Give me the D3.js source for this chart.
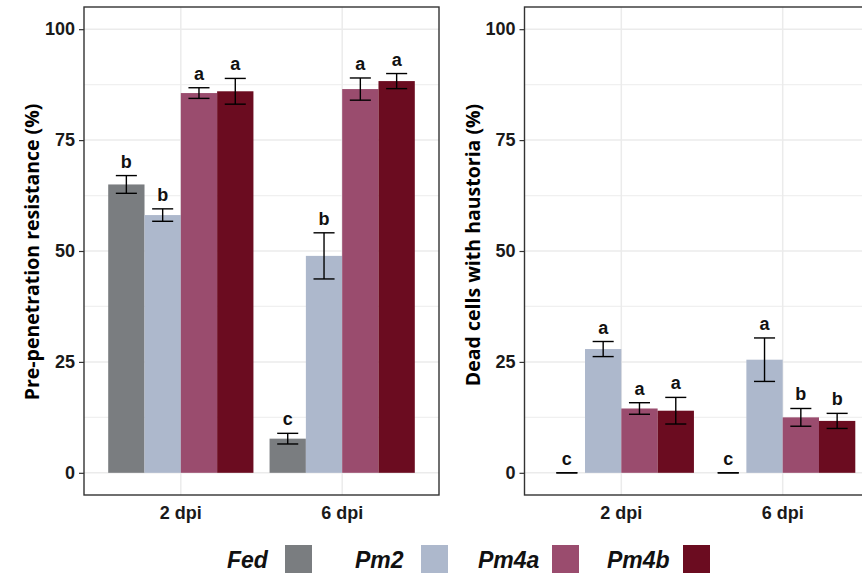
<!DOCTYPE html>
<html>
<head>
<meta charset="utf-8">
<script src="https://cdn.jsdelivr.net/npm/d3@7"></script>
<style>
  html, body { margin: 0; padding: 0; background: #fff; }
  svg { display: block; }
</style>
</head>
<body>
<svg id="chart" width="862" height="573"></svg>
<script>
// Time points and genotypes
const timepoints = ["2 dpi", "6 dpi"];
const genotypes = ["Fed", "Pm2", "Pm4a", "Pm4b"];
const genotypeColors = ["#7a7d80", "#adb8cc", "#9a4c6e", "#6b0c20"];

// Pre-penetration resistance (%): mean and standard error per genotype, [2 dpi, 6 dpi]
const penetrationMean = { Fed: [65.0, 7.7], Pm2: [58.1, 48.9], Pm4a: [85.6, 86.5], Pm4b: [86.0, 88.3] };
const penetrationSE   = { Fed: [2.0, 1.2],  Pm2: [1.4, 5.2],   Pm4a: [1.2, 2.5],   Pm4b: [2.9, 1.7] };
const penetrationLetters = { Fed: ["b", "c"], Pm2: ["b", "b"], Pm4a: ["a", "a"], Pm4b: ["a", "a"] };

// Dead cells with haustoria (%)
const haustoriaMean = { Fed: [0, 0], Pm2: [27.9, 25.5], Pm4a: [14.5, 12.5], Pm4b: [14.0, 11.7] };
const haustoriaSE   = { Fed: [0, 0], Pm2: [1.7, 4.9],   Pm4a: [1.3, 2.0],   Pm4b: [3.0, 1.7] };
const haustoriaLetters = { Fed: ["c", "c"], Pm2: ["a", "a"], Pm4a: ["a", "b"], Pm4b: ["a", "b"] };

const yTicks = [0, 25, 50, 75, 100];
const yMinorTicks = [12.5, 37.5, 62.5, 87.5];

const svg = d3.select("#chart");
const color = d3.scaleOrdinal().domain(genotypes).range(genotypeColors);

const panelTop = 7, panelBottom = 495, panelWidth = 355;
const bodyFont = "Liberation Sans, Arial, sans-serif";

function drawPanel(left, title, means, ses, letters, titleCenterY) {
  const right = left + panelWidth;
  const g = svg.append("g");

  const y = d3.scaleLinear().domain([-5, 105]).range([panelBottom, panelTop]);
  const x0 = d3.scaleBand().domain(timepoints).range([left, right])
    .paddingInner(0.1).paddingOuter(0.15);
  const x1 = d3.scaleBand().domain(genotypes).range([0, x0.bandwidth()]);

  // grid
  g.selectAll(".minor").data(yMinorTicks).join("line")
    .attr("x1", left).attr("x2", right)
    .attr("y1", d => y(d)).attr("y2", d => y(d))
    .attr("stroke", "#f0f0f0").attr("stroke-width", 1.2);
  g.selectAll(".major").data(yTicks).join("line")
    .attr("x1", left).attr("x2", right)
    .attr("y1", d => y(d)).attr("y2", d => y(d))
    .attr("stroke", "#ebebeb").attr("stroke-width", 1.5);
  g.selectAll(".vgrid").data(timepoints).join("line")
    .attr("x1", d => x0(d) + x0.bandwidth() / 2).attr("x2", d => x0(d) + x0.bandwidth() / 2)
    .attr("y1", panelTop).attr("y2", panelBottom)
    .attr("stroke", "#ebebeb").attr("stroke-width", 1.5);

  // rows: one per genotype x timepoint
  const rows = [];
  timepoints.forEach((t, ti) => genotypes.forEach(gn => rows.push({
    t, gn, mean: means[gn][ti], se: ses[gn][ti], letter: letters[gn][ti]
  })));

  const cx = d => x0(d.t) + x1(d.gn) + x1.bandwidth() / 2;

  g.selectAll(".bar").data(rows).join("rect")
    .attr("x", d => x0(d.t) + x1(d.gn))
    .attr("width", x1.bandwidth())
    .attr("y", d => y(d.mean))
    .attr("height", d => y(0) - y(d.mean))
    .attr("fill", d => color(d.gn));

  const capHalf = x1.bandwidth() * 0.29;
  const eb = g.selectAll(".err").data(rows).join("g")
    .attr("stroke", "#000").attr("stroke-width", 1.4).attr("fill", "none");
  eb.append("line")
    .attr("x1", cx).attr("x2", cx)
    .attr("y1", d => y(d.mean + d.se)).attr("y2", d => y(d.mean - d.se));
  eb.append("line")
    .attr("x1", d => cx(d) - capHalf).attr("x2", d => cx(d) + capHalf)
    .attr("y1", d => y(d.mean + d.se)).attr("y2", d => y(d.mean + d.se));
  eb.append("line")
    .attr("x1", d => cx(d) - capHalf).attr("x2", d => cx(d) + capHalf)
    .attr("y1", d => y(d.mean - d.se)).attr("y2", d => y(d.mean - d.se));

  g.selectAll(".letter").data(rows).join("text")
    .attr("x", cx)
    .attr("y", d => y(d.mean + d.se) - 8)
    .attr("text-anchor", "middle")
    .attr("font-family", bodyFont)
    .attr("font-weight", "bold")
    .attr("font-size", 18)
    .attr("fill", "#111")
    .text(d => d.letter);

  // border
  g.append("rect")
    .attr("x", left).attr("y", panelTop)
    .attr("width", panelWidth).attr("height", panelBottom - panelTop)
    .attr("fill", "none").attr("stroke", "#333").attr("stroke-width", 1.4);

  // y axis
  const yAxis = g.append("g").attr("transform", `translate(${left},0)`)
    .call(d3.axisLeft(y).tickValues(yTicks).tickSize(5).tickPadding(4));
  yAxis.select(".domain").remove();
  yAxis.selectAll(".tick line").attr("stroke", "#333").attr("stroke-width", 1.2);
  yAxis.selectAll(".tick text")
    .attr("font-family", bodyFont)
    .attr("font-weight", "bold").attr("font-size", 18).attr("fill", "#1a1a1a");

  // x axis labels
  const xAxis = g.append("g").attr("transform", `translate(0,${panelBottom})`)
    .call(d3.axisBottom(x0).tickSize(0).tickPadding(11));
  xAxis.select(".domain").remove();
  xAxis.selectAll(".tick text")
    .attr("font-family", bodyFont)
    .attr("font-weight", "bold").attr("font-size", 18).attr("fill", "#1a1a1a");

  // y title
  g.append("text")
    .attr("transform", `translate(${left - 45},${titleCenterY}) rotate(-90)`)
    .attr("text-anchor", "middle")
    .attr("font-family", "Open Sans, sans-serif")
    .attr("font-weight", "bold")
    .attr("font-size", 19.5)
    .attr("fill", "#000")
    .text(title);
}

drawPanel(84, "Pre-penetration resistance (%)", penetrationMean, penetrationSE, penetrationLetters, 252);
drawPanel(524.5, "Dead cells with haustoria (%)", haustoriaMean, haustoriaSE, haustoriaLetters, 245);

// legend
const legendTextX = [227, 355, 478, 607];
const legendKeyX = [285, 421, 552, 683];
const legend = svg.append("g");
genotypes.forEach((gn, i) => {
  legend.append("text")
    .attr("x", legendTextX[i]).attr("y", 568)
    .attr("font-family", bodyFont)
    .attr("font-weight", "bold").attr("font-style", "italic")
    .attr("font-size", 23).attr("fill", "#111")
    .text(gn);
  legend.append("rect")
    .attr("x", legendKeyX[i]).attr("y", 545)
    .attr("width", 27).attr("height", 28)
    .attr("fill", color(gn));
});
</script>
</body>
</html>
